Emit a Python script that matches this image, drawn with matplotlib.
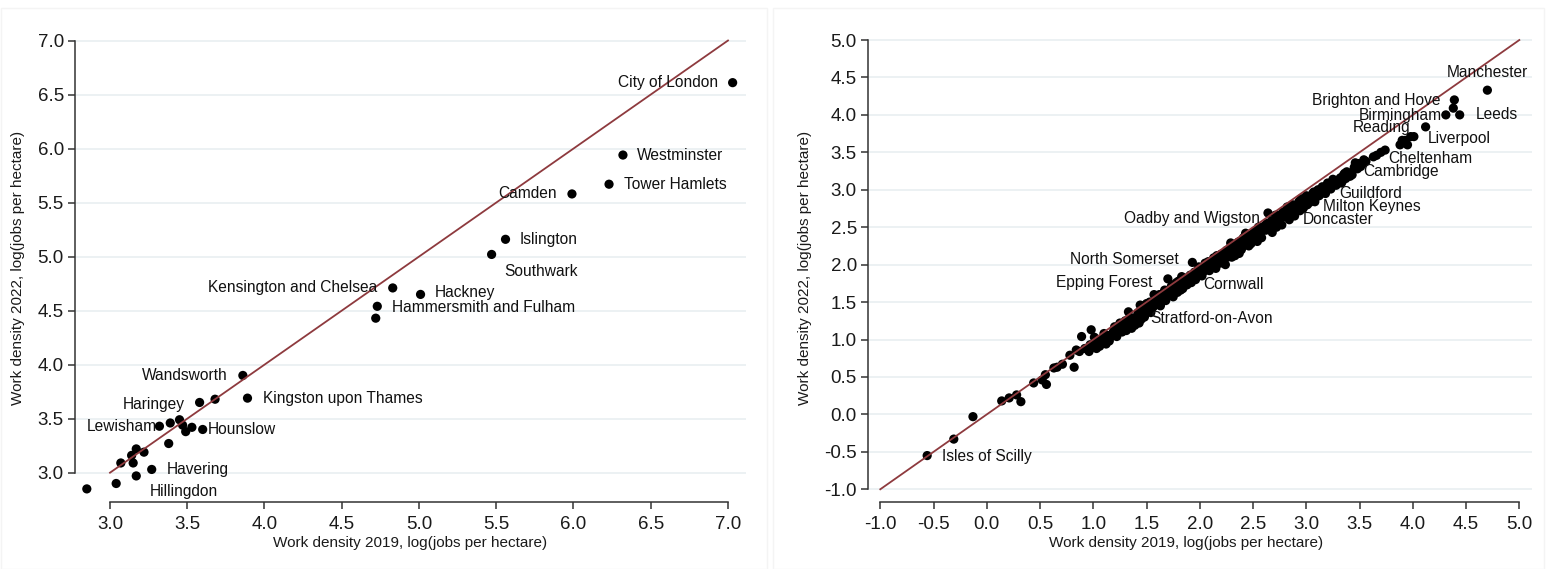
import matplotlib
matplotlib.use("Agg")
import matplotlib.pyplot as plt
from matplotlib.patches import Rectangle

plt.rcParams["font.family"] = ["Liberation Sans", "DejaVu Sans"]

W, H = 1546, 569

# London boroughs, log(jobs per hectare)
lon_x = [7.03, 6.32, 6.23, 5.99, 5.56, 5.47, 4.83, 5.01, 4.73, 4.72,
         3.86, 3.89, 3.58, 3.68, 3.32, 3.39, 3.45, 3.47, 3.49, 3.53,
         3.60, 3.38, 2.85, 3.04, 3.07, 3.14, 3.15, 3.17, 3.17, 3.22, 3.27]
lon_y = [6.61, 5.94, 5.67, 5.58, 5.16, 5.02, 4.71, 4.65, 4.54, 4.43,
         3.90, 3.69, 3.65, 3.68, 3.43, 3.46, 3.49, 3.44, 3.38, 3.42,
         3.40, 3.27, 2.85, 2.90, 3.09, 3.16, 3.09, 3.22, 2.97, 3.19, 3.03]
lon_names = ["City of London", "Westminster", "Tower Hamlets", "Camden", "Islington",
             "Southwark", "Kensington and Chelsea", "Hackney", "Hammersmith and Fulham", "",
             "Wandsworth", "Kingston upon Thames", "Haringey", "", "Lewisham",
             "", "", "", "", "",
             "Hounslow", "", "", "", "", "", "", "", "Hillingdon", "", "Havering"]

# other local authorities, log(jobs per hectare)
la_x = [-0.56, -0.31, -0.13, 0.14, 0.21, 0.28, 0.32, 0.44, 0.52, 0.55, 0.56, 0.63, 0.66, 0.71,
        0.78, 0.82, 0.84,
        0.89, 0.87, 0.92, 0.96, 0.97, 0.98, 1.00, 1.02, 1.05, 1.03, 1.07, 1.10, 1.13, 1.12,
        1.16, 1.19, 1.22, 1.20, 1.25, 1.27, 1.29, 1.30, 1.33, 1.35, 1.37, 1.39, 1.41, 1.43,
        1.44, 1.46, 1.48, 1.50, 1.52, 1.54,
        1.57, 1.58, 1.61, 1.63, 1.65, 1.67, 1.68, 1.70, 1.71, 1.73, 1.75, 1.76, 1.78, 1.79,
        1.81, 1.83, 1.84, 1.86, 1.88, 1.89, 1.91, 1.93, 1.94, 1.96, 1.98, 2.00, 2.02, 2.04,
        2.06, 2.08, 2.10,
        2.11, 2.13, 2.15, 2.17, 2.19, 2.20, 2.22, 2.24, 2.25, 2.27, 2.29, 2.30, 2.32, 2.34,
        2.35, 2.37, 2.38, 2.40, 2.41, 2.43, 2.44, 2.46, 2.47, 2.49, 2.51, 2.52, 2.54, 2.55,
        2.57, 2.58, 2.60, 2.62, 2.63, 2.64, 2.66, 2.68, 2.69, 2.71, 2.72,
        2.74, 2.76, 2.77, 2.79, 2.81, 2.83, 2.84, 2.86, 2.88, 2.89, 2.91, 2.93, 2.94, 2.96,
        2.98, 2.99, 3.01, 3.02, 3.04, 3.06, 3.08, 3.10, 3.12, 3.14, 3.16, 3.18, 3.19, 3.21,
        3.23, 3.26, 3.28, 3.30, 3.33, 3.35, 3.37, 3.38, 3.41, 3.43, 3.46, 3.49, 3.51, 3.54,
        3.56,
        3.63, 3.66, 3.70, 3.74, 3.88, 3.90, 3.93, 3.95, 3.98, 4.01, 4.12, 4.31, 4.38, 4.39,
        4.44, 4.70,
        0.95, 1.01, 1.06, 1.09, 1.15, 1.18, 1.23, 1.26, 1.31, 1.34, 1.36, 1.40, 1.42, 1.45,
        1.47, 1.49, 1.53,
        1.56, 1.59, 1.62, 1.64, 1.66, 1.69, 1.72, 1.74, 1.77, 1.80, 1.82, 1.85, 1.87, 1.90,
        1.92, 1.95, 1.97, 1.99,
        2.01, 2.03, 2.05, 2.07, 2.09, 2.12, 2.14, 2.16, 2.18, 2.21, 2.23, 2.26, 2.28, 2.31,
        2.33, 2.36, 2.39, 2.42, 2.45, 2.48, 2.50, 2.53, 2.56, 2.59,
        2.61, 2.65, 2.67, 2.70, 2.73, 2.75, 2.78, 2.80, 2.82, 2.85, 2.87, 2.90, 2.92, 2.95,
        2.97, 3.00, 3.03, 3.05, 3.07, 3.09, 3.11, 3.13, 3.15, 3.17, 3.20, 3.22, 3.25, 3.27,
        3.32, 3.34, 3.36, 3.40, 3.45, 3.48, 3.53]
la_y = [-0.55, -0.33, -0.03, 0.18, 0.22, 0.26, 0.17, 0.42, 0.46, 0.53, 0.40, 0.62, 0.63, 0.67,
        0.79, 0.63, 0.86,
        1.04, 0.84, 0.88, 0.84, 0.93, 1.13, 0.90, 0.97, 0.99, 0.88, 0.95, 1.08, 1.02, 0.94,
        1.06, 1.11, 1.04, 1.17, 1.22, 1.10, 1.16, 1.25, 1.37, 1.22, 1.28, 1.19, 1.31, 1.22,
        1.46, 1.38, 1.30, 1.48, 1.42, 1.36,
        1.60, 1.48, 1.53, 1.45, 1.58, 1.66, 1.52, 1.81, 1.62, 1.70, 1.57, 1.66, 1.76, 1.63,
        1.72, 1.84, 1.68, 1.78, 1.73, 1.77, 1.86, 2.03, 1.86, 1.80, 1.92, 1.91, 1.85, 1.97,
        1.93, 2.04, 1.98,
        2.00, 2.09, 1.95, 2.06, 2.02, 2.14, 2.08, 2.00, 2.19, 2.15, 2.29, 2.10, 2.20, 2.26,
        2.22, 2.15, 2.31, 2.24, 2.36, 2.42, 2.30, 2.25, 2.38, 2.33, 2.37, 2.45, 2.31, 2.50,
        2.42, 2.36, 2.48, 2.46, 2.55, 2.69, 2.51, 2.43, 2.55, 2.66, 2.50,
        2.60, 2.62, 2.53, 2.66, 2.72, 2.71, 2.60, 2.76, 2.73, 2.65, 2.77, 2.84, 2.72, 2.82,
        2.78, 2.86, 2.80, 2.91, 2.88, 2.95, 2.84, 2.98, 2.92, 3.00, 3.02, 2.95, 3.06, 3.08,
        3.01, 3.11, 3.06, 3.13, 3.09, 3.20, 3.15, 3.24, 3.18, 3.20, 3.36, 3.35, 3.31, 3.40,
        3.38,
        3.44, 3.46, 3.50, 3.53, 3.60, 3.66, 3.66, 3.60, 3.71, 3.71, 3.84, 4.00, 4.09, 4.20,
        4.00, 4.33,
        0.88, 1.03, 0.91, 1.00, 0.98, 1.05, 1.13, 1.18, 1.12, 1.29, 1.15, 1.24, 1.36, 1.27,
        1.45, 1.35, 1.50,
        1.43, 1.55, 1.60, 1.50, 1.62, 1.57, 1.66, 1.73, 1.69, 1.78, 1.66, 1.75, 1.82, 1.80,
        1.76, 1.90, 1.86, 1.97,
        1.96, 1.90, 2.02, 1.96, 1.92, 2.04, 2.00, 2.12, 2.08, 2.03, 2.16, 2.10, 2.22, 2.17,
        2.12, 2.30, 2.20, 2.27, 2.35, 2.28, 2.42, 2.40, 2.36, 2.50,
        2.52, 2.47, 2.58, 2.56, 2.66, 2.55, 2.70, 2.64, 2.77, 2.68, 2.80, 2.72, 2.78, 2.88,
        2.75, 2.92, 2.83, 2.90, 2.97, 2.90, 3.00, 2.94, 3.04, 3.00, 3.09, 3.03, 3.14, 3.09,
        3.16, 3.12, 3.22, 3.22, 3.30, 3.28, 3.35]
la_labels = {
    (-0.56, -0.55): "Isles of Scilly",
    (1.44, 1.46): "Stratford-on-Avon",
    (1.70, 1.81): "Epping Forest",
    (1.89, 1.77): "Cornwall",
    (1.93, 2.03): "North Somerset",
    (2.71, 2.66): "Oadby and Wigston",
    (2.83, 2.71): "Doncaster",
    (3.02, 2.91): "Milton Keynes",
    (3.19, 3.06): "Guildford",
    (3.43, 3.20): "Cambridge",
    (3.66, 3.46): "Cheltenham",
    (4.01, 3.71): "Liverpool",
    (4.12, 3.84): "Reading",
    (4.31, 4.00): "Birmingham",
    (4.39, 4.20): "Brighton and Hove",
    (4.44, 4.00): "Leeds",
    (4.70, 4.33): "Manchester",
}

# label placement, pixel offsets of the text from the marker
offsets = {
    "City of London": (-15, 0), "Westminster": (14, 0), "Tower Hamlets": (15, 0),
    "Camden": (-15, 0), "Islington": (14, 0), "Southwark": (13, -17),
    "Kensington and Chelsea": (-15, 0), "Hackney": (14, 2),
    "Hammersmith and Fulham": (15, -1), "Wandsworth": (-15, 0),
    "Kingston upon Thames": (15, 0), "Haringey": (-15, -2), "Lewisham": (-3, 0),
    "Hounslow": (5, 0), "Havering": (15, 0), "Hillingdon": (13, -16),
    "Manchester": (0, 18), "Brighton and Hove": (-14, -1), "Birmingham": (-4, -1),
    "Leeds": (16, 0), "Reading": (-15, -1), "Liverpool": (14, -2),
    "Cheltenham": (12, -3), "Cambridge": (11, 3), "Guildford": (13, -8),
    "Milton Keynes": (15, -10), "Doncaster": (15, -8), "Oadby and Wigston": (-15, -3),
    "North Somerset": (-14, 3), "Epping Forest": (-15, -4), "Cornwall": (15, -3),
    "Stratford-on-Avon": (10, -13), "Isles of Scilly": (15, -1),
}

LINE_RED = "#8e3a3e"
GRID = "#e9eff1"
AXC = "#333333"


def px_axes(fig, l, r, t, b):
    return fig.add_axes([l / W, 1 - b / H, (r - l) / W, (b - t) / H])


def style(ax, lo, hi):
    ax.set_facecolor("white")
    for s in ["top", "right"]:
        ax.spines[s].set_visible(False)
    for s in ["left", "bottom"]:
        ax.spines[s].set_color(AXC)
        ax.spines[s].set_linewidth(1.1)
        ax.spines[s].set_bounds(lo, hi)
    ticks = [lo + 0.5 * i for i in range(int((hi - lo) / 0.5) + 1)]
    ax.set_xticks(ticks)
    ax.set_yticks(ticks)
    ax.set_xticklabels([f"{t:.1f}" for t in ticks])
    ax.set_yticklabels([f"{t:.1f}" for t in ticks])
    ax.tick_params(length=5, width=1.1, color=AXC, labelsize=13.5,
                   labelcolor="#1a1a1a", pad=3)
    ax.tick_params(axis="x", pad=5)
    ax.yaxis.grid(True, color=GRID, linewidth=1.2)
    ax.set_axisbelow(True)


def panel(ax, xs, ys, names, lo, hi):
    ax.scatter(xs, ys, s=44, color="black", edgecolors="none", zorder=2)
    ax.plot([lo, hi], [lo, hi], color=LINE_RED, linewidth=1.3, zorder=3)
    for x, y, n in zip(xs, ys, names):
        if not n:
            continue
        dx, dy = offsets[n]
        ha = "left" if dx > 0 else ("right" if dx < 0 else "center")
        ax.annotate(n, (x, y), xytext=(dx, dy), textcoords="offset pixels",
                    ha=ha, va="center", fontsize=11.2, color="#111111", zorder=4)


fig = plt.figure(figsize=(W / 100, H / 100), dpi=100)
fig.patch.set_facecolor("white")
fig.add_artist(Rectangle((1 / W, 0), 766 / W, 1 - 8 / H, transform=fig.transFigure,
                         fill=False, edgecolor="#f4f4f4", linewidth=1))
fig.add_artist(Rectangle((773 / W, 0), 771 / W, 1 - 8 / H, transform=fig.transFigure,
                         fill=False, edgecolor="#f4f4f4", linewidth=1))

# left: London
ax1 = px_axes(fig, 75, 746, 35, 502)
panel(ax1, lon_x, lon_y, lon_names, 3.0, 7.0)
ax1.set_xlim(2.7735, 7.1165)
ax1.set_ylim(2.7287, 7.051)
style(ax1, 3.0, 7.0)

# right: other local authorities
la_names = [la_labels.get((x, y), "") for x, y in zip(la_x, la_y)]
ax2 = px_axes(fig, 868, 1532, 35, 502)
panel(ax2, la_x, la_y, la_names, -1.0, 5.0)
ax2.set_xlim(-1.1155, 5.119)
ax2.set_ylim(-1.17, 5.067)
style(ax2, -1.0, 5.0)

xlab = "Work density 2019, log(jobs per hectare)"
ylab = "Work density 2022, log(jobs per hectare)"
fig.text(410 / W, 1 - 543 / H, xlab, ha="center", va="center", fontsize=11, color="#1a1a1a")
fig.text(1186 / W, 1 - 543 / H, xlab, ha="center", va="center", fontsize=11, color="#1a1a1a")
fig.text(18 / W, 1 - 268 / H, ylab, ha="center", va="center", rotation=90, fontsize=11, color="#1a1a1a")
fig.text(805 / W, 1 - 268 / H, ylab, ha="center", va="center", rotation=90, fontsize=11, color="#1a1a1a")

fig.savefig("out.png", dpi=100, facecolor="white")
